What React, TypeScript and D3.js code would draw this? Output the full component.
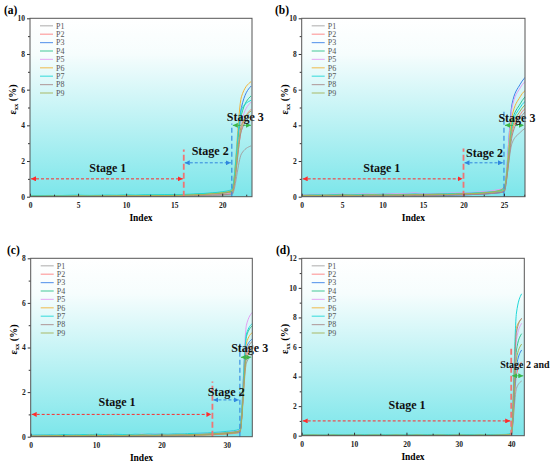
import { useEffect, useRef } from "react"
import * as d3 from "d3"

const seriesNames = ["P1", "P2", "P3", "P4", "P5", "P6", "P7", "P8", "P9"]
const seriesColors = ["#a3a3a3", "#ff8080", "#3b82e8", "#2fc48d", "#e39cf2", "#f2b338", "#1fd8d8", "#a88a8a", "#a4b357"]

// strain values, one row per point P1..P9, index 0..n
const strainA = [
    [0.02, 0.02, 0.03, 0.02, 0.03, 0.03, 0.02, 0.03, 0.03, 0.02, 0.03, 0.03, 0.04, 0.03, 0.04, 0.04, 0.05, 0.05, 0.06, 0.07, 0.08, 0.10, 2.40, 2.85],
    [0.03, 0.04, 0.03, 0.04, 0.05, 0.04, 0.04, 0.05, 0.04, 0.05, 0.05, 0.06, 0.05, 0.06, 0.06, 0.07, 0.08, 0.09, 0.11, 0.13, 0.15, 0.20, 3.80, 4.90],
    [0.02, 0.03, 0.04, 0.03, 0.04, 0.05, 0.04, 0.05, 0.05, 0.04, 0.06, 0.05, 0.06, 0.07, 0.06, 0.08, 0.09, 0.11, 0.13, 0.16, 0.20, 0.30, 5.00, 6.20],
    [0.04, 0.05, 0.05, 0.06, 0.05, 0.06, 0.07, 0.06, 0.07, 0.07, 0.08, 0.07, 0.08, 0.09, 0.09, 0.10, 0.11, 0.13, 0.16, 0.19, 0.24, 0.32, 4.60, 5.65],
    [0.01, 0.02, 0.02, 0.03, 0.02, 0.03, 0.03, 0.02, 0.03, 0.04, 0.03, 0.04, 0.04, 0.05, 0.05, 0.05, 0.06, 0.08, 0.10, 0.12, 0.15, 0.22, 4.20, 5.30],
    [0.02, 0.03, 0.03, 0.04, 0.04, 0.03, 0.05, 0.04, 0.05, 0.05, 0.06, 0.06, 0.07, 0.06, 0.07, 0.08, 0.10, 0.12, 0.15, 0.19, 0.25, 0.36, 5.60, 6.45],
    [0.05, 0.06, 0.07, 0.06, 0.08, 0.09, 0.07, 0.08, 0.09, 0.08, 0.10, 0.09, 0.11, 0.10, 0.12, 0.11, 0.13, 0.15, 0.18, 0.22, 0.28, 0.40, 4.90, 5.40],
    [0.01, 0.01, 0.02, 0.01, 0.02, 0.02, 0.01, 0.02, 0.02, 0.02, 0.03, 0.02, 0.03, 0.03, 0.03, 0.04, 0.05, 0.06, 0.07, 0.09, 0.11, 0.15, 3.70, 4.50],
    [0.03, 0.03, 0.04, 0.04, 0.03, 0.05, 0.04, 0.05, 0.04, 0.06, 0.05, 0.06, 0.06, 0.07, 0.06, 0.07, 0.08, 0.10, 0.12, 0.15, 0.19, 0.26, 4.00, 4.80],
]

const strainB = [
    [0.10, 0.11, 0.09, 0.10, 0.12, 0.11, 0.10, 0.12, 0.11, 0.13, 0.12, 0.11, 0.13, 0.12, 0.14, 0.13, 0.12, 0.14, 0.15, 0.14, 0.16, 0.17, 0.19, 0.22, 0.28, 0.40, 3.0, 3.6, 3.95],
    [0.05, 0.06, 0.05, 0.07, 0.06, 0.05, 0.07, 0.06, 0.08, 0.07, 0.06, 0.08, 0.07, 0.09, 0.08, 0.07, 0.09, 0.10, 0.09, 0.11, 0.12, 0.13, 0.15, 0.18, 0.22, 0.30, 3.6, 4.6, 5.1],
    [0.03, 0.04, 0.03, 0.05, 0.04, 0.03, 0.05, 0.04, 0.06, 0.05, 0.04, 0.06, 0.05, 0.07, 0.06, 0.05, 0.07, 0.08, 0.07, 0.09, 0.10, 0.12, 0.14, 0.17, 0.20, 0.28, 5.2, 6.3, 6.85],
    [0.08, 0.09, 0.08, 0.10, 0.09, 0.11, 0.10, 0.09, 0.11, 0.10, 0.12, 0.11, 0.10, 0.12, 0.13, 0.12, 0.14, 0.13, 0.15, 0.16, 0.17, 0.19, 0.21, 0.24, 0.28, 0.36, 4.2, 5.2, 5.8],
    [0.12, 0.13, 0.14, 0.12, 0.15, 0.14, 0.13, 0.15, 0.16, 0.14, 0.15, 0.17, 0.16, 0.18, 0.22, 0.17, 0.18, 0.19, 0.20, 0.21, 0.22, 0.24, 0.27, 0.31, 0.37, 0.48, 5.0, 6.1, 6.6],
    [0.06, 0.07, 0.08, 0.07, 0.09, 0.08, 0.07, 0.09, 0.10, 0.08, 0.09, 0.10, 0.09, 0.11, 0.12, 0.10, 0.11, 0.13, 0.12, 0.14, 0.15, 0.17, 0.19, 0.23, 0.28, 0.38, 4.5, 5.6, 6.1],
    [0.09, 0.10, 0.11, 0.10, 0.12, 0.13, 0.11, 0.12, 0.13, 0.12, 0.14, 0.13, 0.12, 0.14, 0.15, 0.14, 0.15, 0.16, 0.17, 0.18, 0.19, 0.21, 0.23, 0.26, 0.30, 0.42, 4.0, 5.0, 5.5],
    [0.04, 0.05, 0.04, 0.05, 0.06, 0.05, 0.04, 0.06, 0.05, 0.06, 0.07, 0.06, 0.05, 0.07, 0.06, 0.08, 0.07, 0.08, 0.09, 0.10, 0.11, 0.12, 0.14, 0.16, 0.20, 0.26, 3.4, 4.4, 4.9],
    [0.07, 0.08, 0.07, 0.09, 0.08, 0.10, 0.09, 0.08, 0.10, 0.11, 0.09, 0.10, 0.11, 0.10, 0.12, 0.11, 0.13, 0.14, 0.13, 0.15, 0.17, 0.18, 0.20, 0.24, 0.30, 0.50, 3.8, 4.8, 5.3],
]

const strainC = [
    [0.02, 0.03, 0.02, 0.03, 0.04, 0.03, 0.02, 0.03, 0.04, 0.03, 0.04, 0.03, 0.04, 0.05, 0.04, 0.03, 0.04, 0.05, 0.04, 0.05, 0.05, 0.04, 0.05, 0.06, 0.05, 0.06, 0.07, 0.08, 0.09, 0.10, 0.12, 0.14, 0.18, 3.3, 3.7],
    [0.04, 0.05, 0.04, 0.06, 0.05, 0.04, 0.05, 0.06, 0.05, 0.04, 0.06, 0.05, 0.07, 0.06, 0.05, 0.06, 0.07, 0.06, 0.05, 0.07, 0.06, 0.07, 0.08, 0.07, 0.08, 0.09, 0.10, 0.11, 0.12, 0.14, 0.16, 0.19, 0.24, 3.6, 4.1],
    [0.03, 0.02, 0.04, 0.03, 0.02, 0.04, 0.03, 0.05, 0.04, 0.03, 0.05, 0.04, 0.03, 0.05, 0.04, 0.05, 0.04, 0.06, 0.05, 0.04, 0.06, 0.05, 0.06, 0.07, 0.06, 0.07, 0.08, 0.10, 0.11, 0.13, 0.15, 0.18, 0.22, 4.0, 4.4],
    [0.05, 0.06, 0.07, 0.06, 0.05, 0.07, 0.06, 0.08, 0.07, 0.06, 0.08, 0.07, 0.09, 0.08, 0.07, 0.08, 0.07, 0.09, 0.08, 0.09, 0.10, 0.09, 0.10, 0.11, 0.10, 0.11, 0.12, 0.13, 0.15, 0.17, 0.19, 0.22, 0.28, 4.5, 5.0],
    [0.06, 0.07, 0.06, 0.08, 0.07, 0.09, 0.08, 0.07, 0.09, 0.10, 0.08, 0.09, 0.10, 0.09, 0.08, 0.10, 0.09, 0.11, 0.10, 0.12, 0.11, 0.10, 0.12, 0.11, 0.13, 0.14, 0.15, 0.16, 0.18, 0.20, 0.22, 0.25, 0.32, 5.0, 5.6],
    [0.01, 0.02, 0.01, 0.02, 0.03, 0.02, 0.01, 0.02, 0.03, 0.02, 0.03, 0.02, 0.03, 0.02, 0.03, 0.04, 0.03, 0.04, 0.03, 0.04, 0.05, 0.04, 0.05, 0.06, 0.05, 0.06, 0.07, 0.08, 0.09, 0.11, 0.13, 0.16, 0.20, 4.2, 4.7],
    [0.07, 0.08, 0.07, 0.09, 0.08, 0.10, 0.09, 0.08, 0.10, 0.09, 0.11, 0.10, 0.09, 0.11, 0.10, 0.09, 0.11, 0.10, 0.12, 0.11, 0.12, 0.11, 0.13, 0.12, 0.14, 0.15, 0.16, 0.17, 0.19, 0.21, 0.24, 0.27, 0.35, 4.6, 5.1],
    [0.02, 0.01, 0.02, 0.03, 0.02, 0.01, 0.03, 0.02, 0.03, 0.02, 0.03, 0.04, 0.03, 0.02, 0.04, 0.03, 0.04, 0.03, 0.04, 0.05, 0.04, 0.05, 0.04, 0.05, 0.06, 0.07, 0.08, 0.09, 0.10, 0.12, 0.14, 0.17, 0.21, 3.8, 4.3],
    [0.04, 0.03, 0.05, 0.04, 0.06, 0.05, 0.04, 0.06, 0.05, 0.07, 0.06, 0.05, 0.07, 0.06, 0.05, 0.07, 0.06, 0.08, 0.07, 0.06, 0.08, 0.07, 0.08, 0.09, 0.08, 0.09, 0.10, 0.12, 0.13, 0.15, 0.17, 0.20, 0.26, 3.5, 3.9],
]

const strainD = [
    [0.02, 0.03, 0.02, 0.03, 0.02, 0.03, 0.04, 0.03, 0.02, 0.03, 0.04, 0.03, 0.02, 0.03, 0.04, 0.03, 0.02, 0.03, 0.04, 0.03, 0.02, 0.03, 0.04, 0.03, 0.02, 0.03, 0.04, 0.03, 0.02, 0.03, 0.04, 0.03, 0.02, 0.03, 0.04, 0.03, 0.02, 0.03, 0.04, 0.05, 0.08, 3.2, 3.7],
    [0.04, 0.05, 0.04, 0.03, 0.05, 0.04, 0.05, 0.06, 0.04, 0.05, 0.04, 0.06, 0.05, 0.04, 0.05, 0.06, 0.05, 0.04, 0.05, 0.06, 0.05, 0.04, 0.06, 0.05, 0.04, 0.05, 0.06, 0.05, 0.04, 0.05, 0.06, 0.05, 0.04, 0.05, 0.06, 0.05, 0.04, 0.05, 0.06, 0.07, 0.10, 4.1, 5.0],
    [0.01, 0.02, 0.01, 0.02, 0.01, 0.02, 0.01, 0.02, 0.03, 0.02, 0.01, 0.02, 0.01, 0.02, 0.03, 0.02, 0.01, 0.02, 0.01, 0.02, 0.03, 0.02, 0.01, 0.02, 0.01, 0.02, 0.03, 0.02, 0.01, 0.02, 0.01, 0.02, 0.03, 0.02, 0.01, 0.02, 0.03, 0.02, 0.03, 0.04, 0.07, 4.7, 5.8],
    [0.05, 0.06, 0.07, 0.06, 0.05, 0.06, 0.07, 0.06, 0.05, 0.06, 0.07, 0.06, 0.05, 0.06, 0.07, 0.06, 0.05, 0.06, 0.07, 0.06, 0.05, 0.06, 0.07, 0.06, 0.05, 0.06, 0.07, 0.06, 0.05, 0.06, 0.07, 0.06, 0.05, 0.06, 0.07, 0.06, 0.05, 0.06, 0.07, 0.08, 0.12, 5.8, 6.9],
    [0.03, 0.04, 0.03, 0.04, 0.05, 0.04, 0.03, 0.04, 0.05, 0.04, 0.03, 0.04, 0.05, 0.04, 0.03, 0.04, 0.05, 0.04, 0.03, 0.04, 0.05, 0.04, 0.03, 0.04, 0.05, 0.04, 0.03, 0.04, 0.05, 0.04, 0.03, 0.04, 0.05, 0.04, 0.03, 0.04, 0.05, 0.04, 0.05, 0.06, 0.10, 6.5, 7.6],
    [0.02, 0.01, 0.02, 0.03, 0.02, 0.01, 0.02, 0.03, 0.02, 0.01, 0.02, 0.03, 0.02, 0.01, 0.02, 0.03, 0.02, 0.01, 0.02, 0.03, 0.02, 0.01, 0.02, 0.03, 0.02, 0.01, 0.02, 0.03, 0.02, 0.01, 0.02, 0.03, 0.02, 0.01, 0.02, 0.03, 0.02, 0.03, 0.04, 0.05, 0.09, 7.3, 7.9],
    [0.06, 0.07, 0.06, 0.05, 0.07, 0.06, 0.07, 0.08, 0.06, 0.07, 0.06, 0.07, 0.08, 0.07, 0.06, 0.07, 0.08, 0.07, 0.06, 0.07, 0.08, 0.07, 0.06, 0.07, 0.08, 0.07, 0.06, 0.07, 0.08, 0.07, 0.06, 0.07, 0.08, 0.07, 0.06, 0.07, 0.08, 0.07, 0.08, 0.09, 0.14, 8.3, 9.6],
    [0.01, 0.02, 0.01, 0.01, 0.02, 0.01, 0.02, 0.01, 0.02, 0.01, 0.01, 0.02, 0.01, 0.02, 0.01, 0.02, 0.01, 0.01, 0.02, 0.01, 0.02, 0.01, 0.02, 0.01, 0.01, 0.02, 0.01, 0.02, 0.01, 0.02, 0.01, 0.01, 0.02, 0.01, 0.02, 0.01, 0.02, 0.02, 0.03, 0.04, 0.08, 7.0, 7.95],
    [0.03, 0.04, 0.05, 0.04, 0.03, 0.04, 0.05, 0.04, 0.03, 0.04, 0.05, 0.04, 0.03, 0.04, 0.05, 0.04, 0.03, 0.04, 0.05, 0.04, 0.03, 0.04, 0.05, 0.04, 0.03, 0.04, 0.05, 0.04, 0.03, 0.04, 0.05, 0.04, 0.03, 0.04, 0.05, 0.04, 0.03, 0.04, 0.05, 0.06, 0.11, 5.2, 6.2],
]

// stage arrows [from index, to index, strain level, colour]
const arrowsA = [[0, 16, 1, "red"], [16, 21, 1.9, "blue"], [21, 23.1, 4, "green"]]
const arrowsB = [[0, 20, 1, "red"], [20, 25, 1.9, "blue"], [25, 27.6, 4, "green"]]
const arrowsC = [[0, 27.8, 1, "red"], [27.8, 32, 1.65, "blue"], [32, 33.9, 3.56, "green"]]
const arrowsD = [[0, 40, 1, "red"], [40, 42.5, 4.05, "green"]]

// stage boundaries [index, top strain, colour]
const boundsA = [[16, 2.65, "pink"], [21, 4.1, "blue"]]
const boundsB = [[20, 2.7, "pink"], [25, 4.85, "blue"]]
const boundsC = [[27.8, 2.47, "pink"], [32, 4.2, "blue"]]
const boundsD = [[40, 6.0, "pink"]]

// stage labels [index, strain, text, anchor, size]
const stagesA = [[8.1, 1.6, "Stage 1"], [18.75, 2.55, "Stage 2"], [22.4, 4.5, "Stage 3"]]
const stagesB = [[9.9, 1.6, "Stage 1"], [22.6, 2.45, "Stage 2"], [26.6, 4.45, "Stage 3"]]
const stagesC = [[13.2, 1.55, "Stage 1"], [29.9, 2.0, "Stage 2"], [33.5, 4.0, "Stage 3"]]
const stagesD = [[20.1, 2.1, "Stage 1"], [37.9, 4.8, "Stage 2 and 3", "start", 10]]

const yTicksA = [0, 2, 4, 6, 8, 10]
const yTicksC = [0, 2, 4, 6, 8]
const yTicksD = [0, 2, 4, 6, 8, 10, 12]
const xTicks5 = [0, 5, 10, 15, 20, 25]
const xTicks10 = [0, 10, 20, 30, 40]

const COLORS = { red: "#ff2b2b", blue: "#2f86de", green: "#3bb54a", pink: "#f07474" }
const FONT = "Liberation Serif, Times New Roman, DejaVu Serif, serif"

const panels = [
    { tag: "(a)", left: 30, right: 252, top: 18.3, bottom: 196.7, xMax: 23.1, yMax: 10, yTicks: yTicksA, xTicks: xTicks5, xMinor: 2.5, data: strainA, arrows: arrowsA, bounds: boundsA, stages: stagesA, labelX: 4, labelY: 14 },
    { tag: "(b)", left: 301.7, right: 525, top: 18.3, bottom: 196.7, xMax: 27.6, yMax: 10, yTicks: yTicksA, xTicks: xTicks5, xMinor: 2.5, data: strainB, arrows: arrowsB, bounds: boundsB, stages: stagesB, labelX: 275, labelY: 14 },
    { tag: "(c)", left: 30.7, right: 252.3, top: 258.3, bottom: 436.7, xMax: 33.9, yMax: 8, yTicks: yTicksC, xTicks: xTicks10, xMinor: 5, data: strainC, arrows: arrowsC, bounds: boundsC, stages: stagesC, labelX: 7, labelY: 254 },
    { tag: "(d)", left: 301.7, right: 524.3, top: 258.3, bottom: 435.7, xMax: 42.5, yMax: 12, yTicks: yTicksD, xTicks: xTicks10, xMinor: 5, data: strainD, arrows: arrowsD, bounds: boundsD, stages: stagesD, labelX: 276, labelY: 254 },
]

function drawPanel(svg, p, i) {
    const x = d3.scaleLinear().domain([0, p.xMax]).range([p.left, p.right])
    const y = d3.scaleLinear().domain([0, p.yMax]).range([p.bottom, p.top])
    const g = svg.append("g").attr("font-family", FONT)

    g.append("clipPath")
        .attr("id", `clip-${i}`)
        .append("rect")
        .attr("x", p.left)
        .attr("y", p.top)
        .attr("width", p.right - p.left)
        .attr("height", p.bottom - p.top)

    g.append("rect")
        .attr("x", p.left)
        .attr("y", p.top)
        .attr("width", p.right - p.left)
        .attr("height", p.bottom - p.top)
        .attr("fill", "url(#bg)")

    const line = d3
        .line()
        .x((d, k) => x(k))
        .y((d) => y(d))
        .curve(d3.curveMonotoneX)

    g.append("g")
        .attr("clip-path", `url(#clip-${i})`)
        .selectAll("path")
        .data(p.data)
        .enter()
        .append("path")
        .attr("d", (d) => line(d))
        .attr("fill", "none")
        .attr("stroke", (d, k) => seriesColors[k])
        .attr("stroke-width", 1)

    // stage boundaries
    g.selectAll(".bound")
        .data(p.bounds)
        .enter()
        .append("line")
        .attr("x1", (d) => x(d[0]))
        .attr("x2", (d) => x(d[0]))
        .attr("y1", y(0))
        .attr("y2", (d) => y(d[1]))
        .attr("stroke", (d) => COLORS[d[2]])
        .attr("stroke-width", (d) => (d[2] === "pink" ? 1.8 : 1.1))
        .attr("stroke-dasharray", (d) => (d[2] === "pink" ? "6,3" : "5,3"))

    // stage arrows
    g.selectAll(".arrow")
        .data(p.arrows)
        .enter()
        .append("line")
        .attr("x1", (d) => x(d[0]) + 1)
        .attr("x2", (d) => x(d[1]) - 1)
        .attr("y1", (d) => y(d[2]))
        .attr("y2", (d) => y(d[2]))
        .attr("stroke", (d) => COLORS[d[3]])
        .attr("stroke-width", 1)
        .attr("stroke-dasharray", "3,2")
        .attr("marker-start", (d) => `url(#arrow-${d[3]})`)
        .attr("marker-end", (d) => `url(#arrow-${d[3]})`)

    g.selectAll(".stage")
        .data(p.stages)
        .enter()
        .append("text")
        .attr("x", (d) => x(d[0]))
        .attr("y", (d) => y(d[1]))
        .attr("dy", "0.35em")
        .attr("text-anchor", (d) => d[3] || "middle")
        .attr("font-size", (d) => d[4] || 12)
        .attr("font-weight", "bold")
        .attr("fill", "#111")
        .text((d) => d[2])

    // axes
    const yAxis = g
        .append("g")
        .attr("transform", `translate(${p.left},0)`)
        .call(d3.axisLeft(y).tickValues(p.yTicks).tickSize(3).tickPadding(2).tickFormat(d3.format("d")))
    const yMinor = d3.range(1, p.yMax, 2)
    g.append("g")
        .attr("transform", `translate(${p.left},0)`)
        .call(d3.axisLeft(y).tickValues(yMinor).tickSize(2).tickFormat(() => ""))
        .call((s) => s.select(".domain").remove())

    const xAxis = g
        .append("g")
        .attr("transform", `translate(0,${p.bottom})`)
        .call(d3.axisBottom(x).tickValues(p.xTicks.filter((t) => t <= p.xMax)).tickSize(-3).tickPadding(6).tickFormat(d3.format("d")))
    const xMinor = d3.range(p.xMinor, p.xMax, p.xMinor * 2)
    g.append("g")
        .attr("transform", `translate(0,${p.bottom})`)
        .call(d3.axisBottom(x).tickValues(xMinor).tickSize(-2).tickFormat(() => ""))
        .call((s) => s.select(".domain").remove())

    for (const ax of [yAxis, xAxis]) {
        ax.attr("font-family", FONT)
        ax.select(".domain").remove()
        ax.selectAll("text").attr("font-size", 7.5).attr("font-weight", "bold").attr("fill", "#222")
    }
    g.selectAll(".tick line").attr("stroke", "#333")

    g.append("rect")
        .attr("x", p.left)
        .attr("y", p.top)
        .attr("width", p.right - p.left)
        .attr("height", p.bottom - p.top)
        .attr("fill", "none")
        .attr("stroke", "#555")
        .attr("stroke-width", 1)

    // legend
    const legend = g
        .selectAll(".legend")
        .data(seriesNames)
        .enter()
        .append("g")
        .attr("transform", (d, k) => `translate(${p.left + 10},${p.top + 7.5 + k * 8.4})`)
    legend
        .append("line")
        .attr("x1", 0)
        .attr("x2", 13)
        .attr("stroke", (d, k) => seriesColors[k])
        .attr("stroke-width", 1.2)
        .attr("opacity", 0.75)
    legend
        .append("text")
        .attr("x", 16)
        .attr("dy", "0.35em")
        .attr("font-size", 8)
        .attr("fill", "#555")
        .text((d) => d)

    // axis titles
    g.append("text")
        .attr("x", (p.left + p.right) / 2)
        .attr("y", p.bottom + 24)
        .attr("text-anchor", "middle")
        .attr("font-size", 9.5)
        .attr("font-weight", "bold")
        .text("Index")

    const yl = g
        .append("text")
        .attr("transform", `translate(${p.left - 14},${(p.top + p.bottom) / 2 - 8}) rotate(-90)`)
        .attr("text-anchor", "middle")
        .attr("font-size", 10)
        .attr("font-weight", "bold")
    yl.append("tspan").text("ε")
    yl.append("tspan").attr("font-size", 6.5).attr("dy", 2).text("xx")
    yl.append("tspan").attr("dy", -2).text(" (%)")

    g.append("text")
        .attr("x", p.labelX)
        .attr("y", p.labelY)
        .attr("font-size", 11.5)
        .attr("font-weight", "bold")
        .text(p.tag)
}

export default function App() {
    const svgRef = useRef(null)

    useEffect(() => {
        const svg = d3.select(svgRef.current)
        svg.selectAll("*").remove()

        const defs = svg.append("defs")
        const grad = defs
            .append("linearGradient")
            .attr("id", "bg")
            .attr("x1", 0)
            .attr("y1", 0)
            .attr("x2", 0)
            .attr("y2", 1)
        grad.append("stop").attr("offset", 0).attr("stop-color", "#ffffff")
        grad.append("stop").attr("offset", 0.2).attr("stop-color", "#f6fdfd")
        grad.append("stop").attr("offset", 1).attr("stop-color", "#7ce6ea")

        for (const c of ["red", "blue", "green"]) {
            defs.append("marker")
                .attr("id", `arrow-${c}`)
                .attr("viewBox", "0 0 10 10")
                .attr("refX", 10)
                .attr("refY", 5)
                .attr("markerWidth", 5)
                .attr("markerHeight", 5)
                .attr("markerUnits", "userSpaceOnUse")
                .attr("orient", "auto-start-reverse")
                .append("path")
                .attr("d", "M0,0L10,5L0,10z")
                .attr("fill", COLORS[c])
        }

        panels.forEach((p, i) => drawPanel(svg, p, i))
    }, [])

    return (
        <svg
            ref={svgRef}
            width={550}
            height={465}
            style={{ position: "absolute", left: 0, top: 0, background: "#fff", fontFamily: FONT }}
        ></svg>
    )
}
